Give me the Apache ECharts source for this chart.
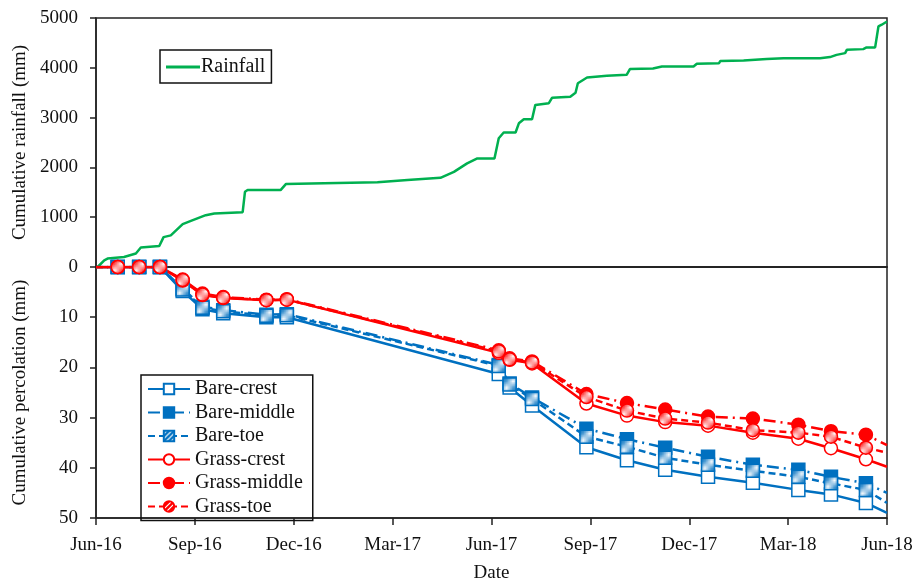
<!DOCTYPE html>
<html>
<head>
<meta charset="utf-8">
<script src="https://cdn.jsdelivr.net/npm/echarts@6/dist/echarts.min.js"></script>
<style>html,body{margin:0;padding:0;background:#fff;}#c{width:917px;height:584px;}</style>
</head>
<body>
<div id="c"></div>
<script>
// ---- data (x = months since 1 Jun 2016) ----
const tickLabels = ['Jun-16','Sep-16','Dec-16','Mar-17','Jun-17','Sep-17','Dec-17','Mar-18','Jun-18'];

const rainMonths = [0.05,0.25,0.35,0.85,1.21,1.36,1.92,2.05,2.27,2.63,2.88,3.33,3.59,4.45,4.52,4.60,5.60,5.76,6.92,8.54,9.45,10.45,10.86,11.26,11.57,12.09,12.22,12.37,12.73,12.83,12.98,13.23,13.33,13.74,13.84,14.39,14.55,14.62,14.90,15.50,16.10,16.20,16.90,17.17,18.13,18.23,18.90,18.94,19.65,20.35,20.86,21.97,22.27,22.47,22.73,22.78,23.28,23.38,23.64,23.74,23.84,24.00];
const rainValues = [0,135,170,200,270,390,420,600,635,860,925,1040,1075,1100,1510,1545,1545,1665,1680,1700,1745,1790,1910,2080,2180,2180,2585,2700,2700,2885,2965,2965,3255,3290,3400,3420,3500,3690,3805,3840,3860,3975,3985,4025,4025,4080,4090,4135,4145,4175,4190,4190,4215,4260,4295,4360,4375,4410,4410,4830,4865,4930];

const percMonths  = [0,0.66,1.31,1.94,2.63,3.23,3.86,5.17,5.79,12.22,12.55,13.23,14.88,16.11,17.27,18.57,19.93,21.31,22.30,23.36,24.00];
const bareCrest   = [0,0,0,0,4.8,8.4,9.2,10.0,10.0,21.3,24.0,27.6,35.9,38.5,40.4,41.8,43.0,44.4,45.3,47.0,49.0];
const bareMiddle  = [0,0,0,0,4.3,7.9,8.6,9.5,9.4,19.5,23.2,26.0,32.2,34.3,36.0,37.8,39.4,40.4,41.8,43.1,45.0];
const bareToe     = [0,0,0,0,4.5,8.1,8.8,9.7,9.6,19.7,23.4,26.3,33.8,35.8,38.0,39.4,40.6,41.8,43.1,44.4,47.0];
const grassCrest  = [0,0,0,0,2.7,5.6,6.2,6.6,6.5,17.1,18.5,19.2,27.2,29.6,30.9,31.6,33.0,34.2,36.1,38.3,39.8];
const grassMiddle = [0,0,0,0,2.5,5.3,6.0,6.5,6.4,16.6,18.2,18.8,25.3,27.1,28.4,29.8,30.2,31.4,32.7,33.4,35.5];
const grassToe    = [0,0,0,0,2.6,5.5,6.1,6.6,6.5,16.8,18.4,19.0,25.9,28.6,30.2,31.0,32.5,33.0,33.8,36.0,37.0];

// ---- styling ----
const BLUE = '#0070C0', RED = '#FF0000', GREEN = '#00B050';
const FONT = 'Liberation Serif';
const FS = 19;

function hatch(color) {
  const c = document.createElement('canvas');
  c.width = 5; c.height = 5;
  const g = c.getContext('2d');
  g.fillStyle = color; g.fillRect(0, 0, 5, 5);
  g.strokeStyle = '#fff'; g.lineWidth = 1.2;
  g.beginPath();
  g.moveTo(-1, 6); g.lineTo(6, -1);
  g.moveTo(-1, 1); g.lineTo(1, -1);
  g.moveTo(4, 6); g.lineTo(6, 4);
  g.stroke();
  return { image: c, repeat: 'repeat' };
}

function pts(ys) {
  return percMonths.map((m, i) => {
    const p = { value: [m, ys[i]] };
    if (i === 0 || i === percMonths.length - 1) p.symbol = 'none';
    return p;
  });
}

const DASHDOT = [12, 5, 2, 5];
const DASH = [7, 4];

function perSeries(name, ys, color, symbol, fillKind, lineType) {
  let fill;
  if (fillKind === 'hollow') fill = '#fff';
  else if (fillKind === 'solid') fill = color;
  else fill = hatch(color);
  return {
    name, type: 'line', xAxisIndex: 1, yAxisIndex: 1,
    data: pts(ys), symbol, symbolSize: 13,
    lineStyle: { color, width: 2.5, type: lineType },
    itemStyle: { color: fill, borderColor: color, borderWidth: 1.5 },
    emphasis: { disabled: true }, animation: false
  };
}

function axLine() { return { show: true, onZero: false, lineStyle: { color: '#222', width: 1.5 } }; }
function axTick(len) { return { show: true, inside: false, length: len, lineStyle: { color: '#222', width: 1.5 } }; }

const chart = echarts.init(document.getElementById('c'), null, { renderer: 'canvas' });
chart.setOption({
  backgroundColor: '#fff',
  animation: false,
  textStyle: { fontFamily: FONT },
  grid: [
    { left: 96, right: 30, top: 18, height: 249, show: true, borderColor: '#222', borderWidth: 1.5 },
    { left: 96, right: 30, top: 267, height: 255, show: true, borderColor: '#222', borderWidth: 1.5 }
  ],
  xAxis: [
    { type: 'value', gridIndex: 0, min: 0, max: 24, interval: 3, position: 'bottom',
      axisLine: axLine(), axisTick: { show: false }, axisLabel: { show: false }, splitLine: { show: false } },
    { type: 'value', gridIndex: 1, min: 0, max: 24, interval: 3, position: 'bottom',
      axisLine: axLine(), axisTick: axTick(7),
      axisLabel: { fontFamily: FONT, fontSize: FS, color: '#111', margin: 18,
        formatter: v => tickLabels[Math.round(v / 3)] },
      splitLine: { show: false },
      name: 'Date', nameLocation: 'middle', nameGap: 46,
      nameTextStyle: { fontFamily: FONT, fontSize: FS, color: '#111' } }
  ],
  yAxis: [
    { type: 'value', gridIndex: 0, min: 0, max: 5000, interval: 1000, position: 'left',
      axisLine: axLine(), axisTick: axTick(6),
      axisLabel: { fontFamily: FONT, fontSize: FS, color: '#111', margin: 18, formatter: v => String(v) },
      splitLine: { show: false },
      name: 'Cumulative rainfall (mm)', nameLocation: 'middle', nameGap: 66,
      nameTextStyle: { fontFamily: FONT, fontSize: FS, color: '#111' } },
    { type: 'value', gridIndex: 1, min: 0, max: 50, interval: 10, inverse: true, position: 'left',
      axisLine: axLine(), axisTick: axTick(6),
      axisLabel: { fontFamily: FONT, fontSize: FS, color: '#111', margin: 18, showMinLabel: false, formatter: v => String(v) },
      splitLine: { show: false },
      name: 'Cumulative percolation (mm)', nameLocation: 'middle', nameGap: 66,
      nameTextStyle: { fontFamily: FONT, fontSize: FS, color: '#111' } }
  ],
  legend: [
    { data: [{ name: 'Rainfall', icon: 'rect' }], left: 160, top: 50, orient: 'horizontal',
      borderColor: '#111', borderWidth: 1.5, padding: [7, 6, 6, 6],
      itemWidth: 34, itemHeight: 3, itemStyle: { color: GREEN },
      textStyle: { fontFamily: FONT, fontSize: 20, color: '#111', padding: [0, 0, 0, -4] } },
    { data: ['Bare-crest','Bare-middle','Bare-toe','Grass-crest','Grass-middle','Grass-toe'],
      left: 141, top: 375, orient: 'vertical',
      borderColor: '#111', borderWidth: 1.5, padding: [4, 10, 4, 6], itemGap: 3.5,
      itemWidth: 42, itemHeight: 13,
      textStyle: { fontFamily: FONT, fontSize: 20, color: '#111', lineHeight: 20 } }
  ],
  series: [
    { name: 'Rainfall', type: 'line', xAxisIndex: 0, yAxisIndex: 0,
      data: rainMonths.map((m, i) => [m, rainValues[i]]),
      showSymbol: false, symbol: 'none',
      lineStyle: { color: GREEN, width: 2.5 }, itemStyle: { color: GREEN } },
    perSeries('Bare-crest', bareCrest, BLUE, 'rect', 'hollow', 'solid'),
    perSeries('Bare-middle', bareMiddle, BLUE, 'rect', 'solid', DASHDOT),
    perSeries('Bare-toe', bareToe, BLUE, 'rect', 'hatch', DASH),
    perSeries('Grass-crest', grassCrest, RED, 'circle', 'hollow', 'solid'),
    perSeries('Grass-middle', grassMiddle, RED, 'circle', 'solid', DASHDOT),
    perSeries('Grass-toe', grassToe, RED, 'circle', 'hatch', DASH)
  ]
});
</script>
</body>
</html>
